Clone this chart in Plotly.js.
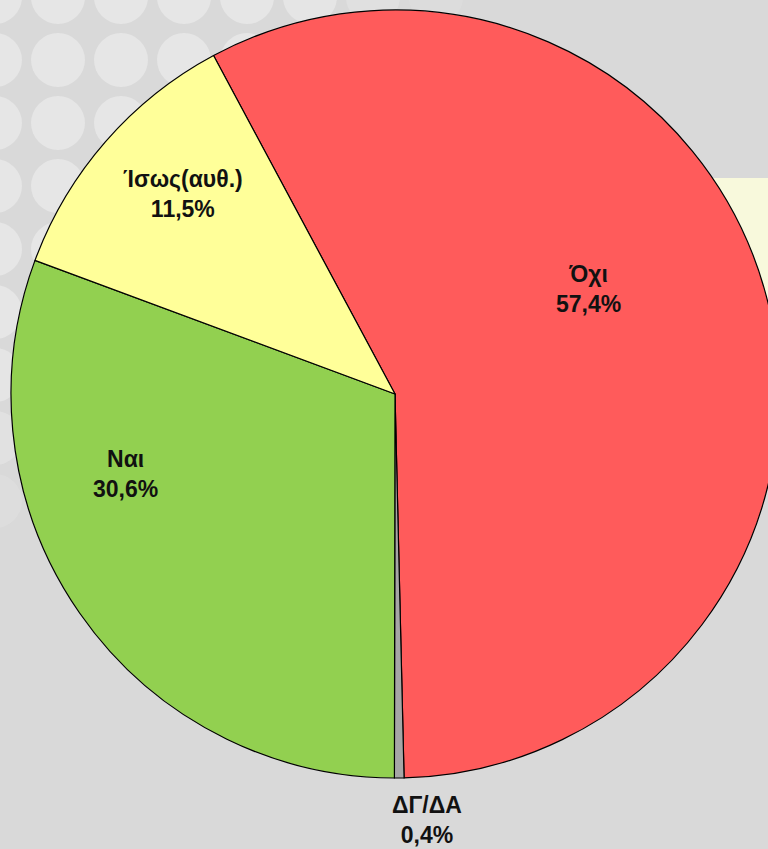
<!DOCTYPE html>
<html>
<head>
<meta charset="utf-8">
<script src="https://cdn.plot.ly/plotly-3.0.1.min.js"></script>
<style>
html,body{margin:0;padding:0;overflow:hidden;background:#d9d9d9;}
#chart{width:790px;height:849px;}
</style>
</head>
<body>
<div id="chart"></div>
<script>
const labels = ["Όχι", "ΔΓ/ΔΑ", "Ναι", "Ίσως(αυθ.)"];
const values = [57.4, 0.4, 30.6, 11.5];
const colors = ["#FF5B5B", "#A6A6A6", "#92D050", "#FFFF99"];

const W = 790, H = 849;

// label placement (pixel centres of each label block), layout only
const labelPx = [[588, 289], [427, 820], [126, 474], [183, 194]];

// decorative background: pale panel + faded circle pattern
const shapes = [];
shapes.push({type:'rect', xref:'paper', yref:'paper', layer:'below',
  x0: 712/W, x1: 1, y0: (H-460)/H, y1: (H-178)/H,
  fillcolor:'#F8F9DC', line:{width:0}});
for (let gx = 0; gx < 8; gx++) {
  for (let gy = 0; gy < 9; gy++) {
    const cx = -5 + gx*63, cy = -3 + gy*63;
    const d = cx*0.9 + cy*0.75;
    let op = 1;
    if (d > 260) op = Math.max(0, 1 - (d-260)/180);
    if (op <= 0) continue;
    shapes.push({type:'circle', xref:'paper', yref:'paper', layer:'below',
      x0:(cx-27)/W, x1:(cx+27)/W, y0:(H-cy-27)/H, y1:(H-cy+27)/H,
      fillcolor:'rgba(230,230,230,'+op.toFixed(2)+')', line:{width:0}});
  }
}

const fmt = v => v.toFixed(1).replace('.', ',') + '%';
const annotations = labels.map((l, i) => ({
  xref:'paper', yref:'paper',
  x: labelPx[i][0]/W, y: 1 - labelPx[i][1]/H,
  xanchor:'center', yanchor:'middle',
  text: '<b>' + l + '</b><br><b>' + fmt(values[i]) + '</b>',
  showarrow:false,
  font:{family:'"Liberation Sans", Arial, sans-serif', size:23, color:'#111111'}
}));

const trace = {
  type:'pie',
  labels: labels,
  values: values,
  sort:false,
  direction:'clockwise',
  rotation:-28.2,
  marker:{colors:colors, line:{color:'#000000', width:1.2}},
  textinfo:'none',
  hoverinfo:'none',
  showlegend:false,
  domain:{x:[11/W, 779/W], y:[(H-778)/H, (H-10)/H]}
};

const layout = {
  width: W, height: H,
  margin:{l:0, r:0, t:0, b:0},
  paper_bgcolor:'#D9D9D9',
  plot_bgcolor:'#D9D9D9',
  separators:',.',
  showlegend:false,
  shapes: shapes,
  annotations: annotations
};

Plotly.newPlot('chart', [trace], layout, {displayModeBar:false, staticPlot:true});
</script>
</body>
</html>
